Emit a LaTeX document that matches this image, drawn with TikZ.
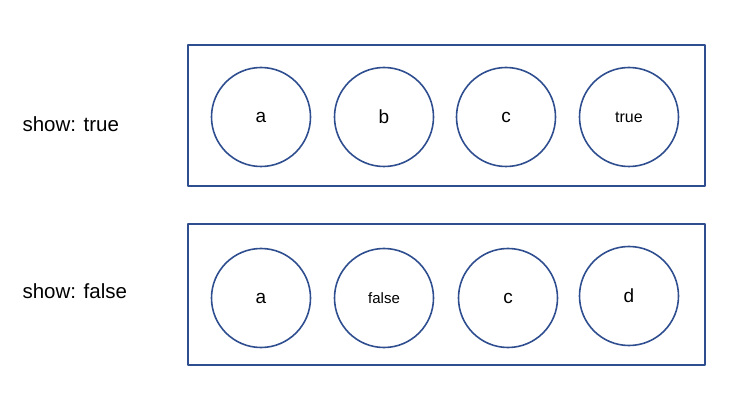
\documentclass[tikz,border=0pt]{standalone}
\usepackage{fontspec}
\setmainfont{Liberation Sans}
\begin{document}
\begin{tikzpicture}[x=1pt,y=-1pt,line join=round,
  ring/.style={circle,draw=blueline,line width=1.6pt,minimum size=99pt,inner sep=0pt,font=\fontsize{19}{19}\selectfont},
  frame/.style={draw=blueline,line width=1.6pt},
  tag/.style={anchor=west,font=\fontsize{20.5}{20.5}\selectfont}]
\definecolor{blueline}{HTML}{2F4E8F}
\useasboundingbox (0,0) rectangle (739,406);
\draw[frame] (188,45) rectangle (705,186);
\draw[frame] (188,224) rectangle (705,365);
\node[tag] (lbltrue) at (19,124) {show: true};
\node[tag] (lblfalse) at (19,291) {show: false};
\foreach \x/\l/\n in {261/a/ta,384/b/tb,506/c/tc,629/{\fontsize{16}{16}\selectfont true}/td}{
  \node[ring] (\n) at (\x,117) {\l};}
\foreach \x/\y/\l/\n in {261/298/a/fa,384/298/{\fontsize{15}{15}\selectfont false}/fb,508/298/c/fc,629/296/d/fd}{
  \node[ring] (\n) at (\x,\y) {\l};}
\end{tikzpicture}
\end{document}
